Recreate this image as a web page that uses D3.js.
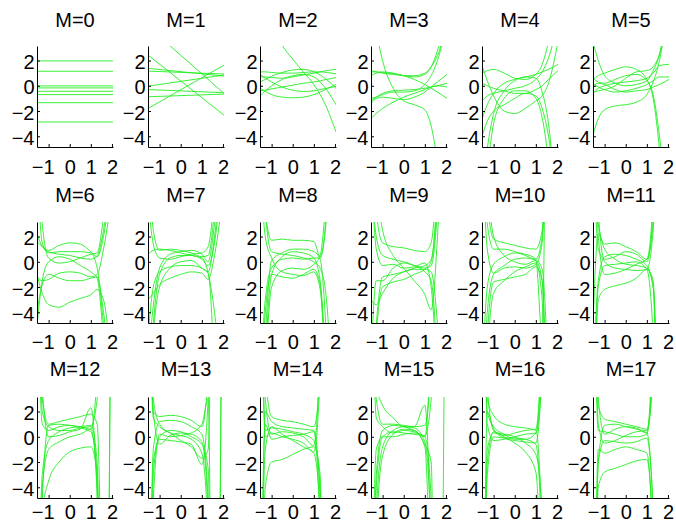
<!DOCTYPE html>
<html><head><meta charset="utf-8">
<script src="https://cdn.jsdelivr.net/npm/d3@7"></script>
<style>body{margin:0;background:#fff} text{font-family:"Liberation Sans",Arial,sans-serif;fill:#000}</style>
</head><body><svg id="c" width="676" height="524"></svg>
<script>
// ---- data ----
const titles = ["M=0","M=1","M=2","M=3","M=4","M=5","M=6","M=7","M=8","M=9","M=10","M=11","M=12","M=13","M=14","M=15","M=16","M=17"];
const xTicks = [-1, 0, 1, 2];
const yTicks = [2, 0, -2, -4];
const xLine = [-1.55, 2.05];                                   // sample x for M=0, M=1
const xGrid = [-1.55, -1.3, -1, -0.5, 0, 0.5, 1, 1.3, 1.6, 2.05]; // sample x for M>=2

const m0 = [[1.97,1.97],[1.15,1.15],[-0.01,-0.01],[-0.17,-0.17],[-0.44,-0.44],[-0.7,-0.7],[-1.34,-1.34],[-2.87,-2.87]];
const m1 = [[2.43,-2.33],[4.7,-0.6],[1.38,0.77],[1.16,0.93],[-0.03,0.85],[-0.3,-0.55],[-0.87,-0.66],[-1.8,1.64]];
const m2 = [
 [7,6,4.8,3.2,2.1,1.1,0.1,-0.7,-1.7,-3.65],
 [1.1,1.1,1.05,1.0,1.0,1.05,1.1,1.1,1.05,0.95],
 [0.7,0.7,0.65,0.6,0.7,0.85,1.0,1.1,1.2,1.3],
 [0.3,0.5,0.75,1.05,1.25,1.3,1.1,0.85,0.5,-0.2],
 [-0.4,-0.35,-0.25,-0.1,0.05,0.2,0.3,0.4,0.5,0.65],
 [-0.8,-0.4,0.0,0.5,0.8,0.9,0.7,0.3,-0.3,-1.5],
 [-0.2,-0.45,-0.7,-0.9,-0.95,-0.9,-0.7,-0.5,-0.25,0.1],
 [0.9,0.6,0.3,-0.1,-0.35,-0.45,-0.4,-0.3,-0.2,-0.05]];
const m3 = [
 [8,4.5,2.0,-0.2,-1.2,-1.5,-1.9,-3.2,-6,-12],
 [1.2,1.1,1.0,0.9,0.8,0.8,1.0,1.5,2.4,5],
 [0.8,1.0,1.1,1.0,0.8,0.7,0.9,1.5,2.8,6],
 [-1.0,-0.9,-0.7,-0.5,-0.5,-0.4,0.1,0.8,2.0,5],
 [1.1,1.1,1.05,0.95,0.8,0.5,0.1,-0.2,-0.5,-1.0],
 [-2.6,-2.2,-1.8,-1.3,-0.9,-0.6,-0.3,-0.1,0.0,0.2],
 [-1.2,-0.9,-0.6,-0.4,-0.35,-0.3,-0.2,-0.1,0.0,-0.1],
 [-1.4,-1.0,-0.9,-1.0,-1.1,-0.9,-0.5,-0.1,0.3,0.9]];
const m4 = [
 [1.6,0.4,-0.8,-2.0,-2.2,-1.8,-1.2,-0.8,0.2,3.5],
 [-9,-5,-2.2,-0.4,0.4,0.7,0.6,-0.5,-3,-12],
 [-12,-7,-3,-1,-0.4,-0.4,-1.0,-2.5,-6,-15],
 [1.0,1.2,1.3,1.0,0.6,0.5,0.9,1.7,3.5,8],
 [-2.6,-1.5,-0.6,0.2,0.5,0.7,0.9,1.1,1.3,1.7],
 [-1.2,-0.8,-0.6,-0.4,-0.2,0.0,0.5,1.1,2.2,5],
 [0.2,0.0,-0.2,-0.4,-0.6,-0.6,-0.3,0.0,0.5,1.2],
 [-4,-2.8,-2.0,-1.5,-1.0,-0.6,-0.8,-1.8,-4,-10]];
const m5 = [
 [3.5,2.0,0.8,0.2,0.0,0.1,0.4,1.2,2.5,7],
 [-3.9,-2.6,-1.9,-1.6,-1.5,-1.3,-0.7,0.3,2.0,7],
 [0.5,0.8,1.0,1.3,1.5,1.3,0.5,-1.0,-5,-14],
 [0.6,0.3,0.2,0.5,0.8,0.9,0.4,-0.7,-4,-12],
 [-0.6,-0.2,0.0,0.2,0.3,0.4,0.6,1.0,1.6,1.7],
 [0.2,-0.1,-0.3,-0.5,-0.4,-0.2,0.1,0.4,0.7,0.7],
 [-0.5,-0.4,-0.3,0.0,0.6,1.1,1.2,1.5,2.5,6],
 [0.0,0.2,0.1,-0.3,-0.5,-0.4,-0.3,-0.1,0.1,0.5]];
const m6 = [
 [8,1.5,0.7,0.8,0.8,0.8,0.7,-0.5,-5,-15],
 [1.6,1.2,0.9,1.3,1.5,1.4,0.8,0.4,2,8],
 [-1.0,-2.5,-3.4,-3.6,-3.2,-2.9,-2.6,-2.2,-3,-10],
 [-4,-1.8,-1.0,-1.3,-1.5,-1.5,-1.3,-1.2,-4,-12],
 [-1.2,-1.5,-1.4,-0.9,-0.8,-0.9,-1.2,-1.0,1,6],
 [9,3,0.3,-0.1,0.0,0.3,0.6,0.7,3.5,10],
 [2.2,1.2,0.8,0.6,0.5,0.3,0.2,0.5,2.5,9],
 [-5,-1.5,0.0,0.4,0.2,-0.3,-0.8,-1.3,-6,-14]];
const m7 = [
 [-8,-3.5,-0.5,0.6,0.8,0.9,0.6,0.0,3.0,12],
 [-12,-5,-1.0,0.3,0.5,0.5,0.2,-0.3,1.5,9],
 [-15,-6,-2.0,-0.5,0.0,0.1,-0.5,-0.9,-8,-20],
 [12,2.5,0.9,1.0,0.9,0.7,0.4,0.5,4,14],
 [0.6,0.9,1.0,0.9,0.7,0.5,0.3,-0.9,-4,-12],
 [-3,-2.5,-1.8,-1.3,-1.0,-0.8,-0.9,-1.4,0.5,6],
 [5,1.4,0.3,0.2,0.4,0.6,0.7,1.2,5,12],
 [-6,-2.0,-0.8,-0.4,-0.3,-0.3,-0.5,-0.8,2,10]];
const m8 = [
 [12,4,1.7,1.8,1.7,1.7,1.6,0.4,3.5,20],
 [-15,-6,0.1,0.7,1.0,1.0,0.8,0.2,-6,-25],
 [-20,-8,-1.0,0.4,0.8,0.7,0.3,-1.5,-9,-25],
 [-10,-3,-0.5,0.2,0.3,0.2,0.3,0.3,4,20],
 [8,2,0.3,-0.8,-1.0,-1.1,-0.8,-2.2,-10,-30],
 [-25,-10,-2.0,-0.7,-0.5,-0.6,-0.2,0.5,6,25],
 [15,4,0.8,0.6,0.5,0.3,0.0,-0.5,-3,-20],
 [-12,-4,-1.0,-1.2,-1.3,-1.0,-0.6,-1.8,-12,-30]];
const m9 = [
 [15,4,1.5,1.2,1.1,0.9,0.8,1.5,8,25],
 [20,7,2.5,0.5,-0.5,-1.5,-2.6,-3.8,2,20],
 [-3,-3.4,-2.5,-1.3,-0.8,-0.6,-0.6,-0.8,-5,-20],
 [-8,-1.5,-1.5,-0.5,-0.1,-0.3,-0.5,-0.3,4,20],
 [-12,-5,-1.2,-1.0,-0.8,-0.5,-0.3,0.2,5,25],
 [8,1.0,-0.3,-0.2,-0.5,-0.4,-0.1,-2.0,-10,-30],
 [-20,-6,-2.0,-1.6,-1.4,-1.0,-0.6,0.0,6,25],
 [6,2.0,0.5,0.2,0.0,-0.3,-0.8,-1.5,-8,-25]];
const m10 = [
 [20,5,1.8,1.5,1.3,1.1,1.0,2.5,15,40],
 [15,3,1.0,1.0,0.8,0.5,0.2,2.0,15,40],
 [-20,-4,-1.0,-0.3,0.2,0.3,0.1,-1.5,-15,-40],
 [-10,-2,-0.2,0.4,0.7,0.6,0.2,-0.6,-10,-40],
 [10,1,-0.9,-0.5,-0.4,-0.5,-0.2,1.5,20,40],
 [-25,-6,-1.6,-1.4,-1.2,-1.0,-0.4,-1.5,-20,-40],
 [-30,-8,-2.5,-1.5,-0.8,-0.4,-0.1,-3,-30,-40],
 [30,8,2.0,0.5,0.0,-0.2,0.1,-6,30,40]];
const m11 = [
 [-5,2.2,1.0,0.2,-0.2,-0.3,-0.5,-2.0,-15,-40],
 [15,3,1.4,1.5,1.2,0.8,0.2,3,30,40],
 [-10,-1.5,0.4,0.6,0.5,0.2,-0.3,-2,-25,-40],
 [10,1.0,0.2,0.4,0.8,0.6,0.0,4,30,40],
 [-20,-3,-2.2,-1.9,-1.7,-1.3,-0.6,-1.5,-20,-40],
 [25,4,0.0,-0.5,-0.6,-0.7,-0.6,2.5,25,40],
 [-15,-2,-0.3,-0.2,-0.1,0.0,-0.6,-6,-30,-40],
 [20,2,-1.0,-0.9,-0.6,-0.2,0.2,5,30,40]];
const m12 = [
 [30,3,1.0,1.2,1.4,1.6,1.8,1.0,-20,-40],
 [-30,-5,0.9,1.0,0.9,0.8,0.6,5,40,40],
 [25,4,0.0,0.1,0.4,0.6,2.3,-5,-40,-40],
 [-25,-4,-1.0,-0.4,0.0,0.2,0.6,-4,-40,-40],
 [-30,-6,-3.5,-2.0,-1.2,-0.9,-0.8,-3,-40,-40],
 [20,2,0.8,0.5,0.5,0.7,0.8,3,40,40],
 [-20,-3,-0.3,0.4,0.7,0.8,0.9,-2,-40,40],
 [15,1,0.5,0.8,0.9,0.7,0.4,-3,-40,40]];
const m13 = [
 [30,2.0,1.6,1.7,1.6,1.3,0.8,5,40,40],
 [-30,-1,1.2,1.3,1.2,0.8,0.2,-5,-40,-40],
 [-40,-3,0.0,0.5,0.4,0.0,-0.6,-2.5,-40,-40],
 [20,1.5,0.8,0.3,-0.3,-0.8,-1.7,-1.0,30,40],
 [-35,-2,-0.2,-0.3,-0.4,-0.6,-2.2,3,40,40],
 [25,2,-0.6,0.1,0.3,0.2,-0.4,-6,-40,-40],
 [-25,-5,0.2,0.0,0.1,0.3,1.0,3,-40,40],
 [10,3,1.0,0.3,0.1,-0.2,-1.3,-8,-40,40]];
const m14 = [
 [30,5,1.6,1.3,1.2,1.0,0.8,5,40,40],
 [-30,2,1.2,0.8,0.7,0.6,0.5,-5,-40,-40],
 [25,0.5,0.7,0.6,0.4,0.2,-0.3,-4,-40,-40],
 [-35,-4,-2.0,-1.8,-1.4,-1.0,-0.8,-3,-40,-40],
 [20,0.0,0.3,0.0,-0.2,-0.5,-1.2,5,40,40],
 [-25,-1,0.8,0.2,-0.3,-0.8,-1.3,-6,-40,-40],
 [35,3,0.2,0.4,0.3,0.0,-0.7,8,40,40],
 [-20,1.0,-0.2,0.0,0.1,0.2,0.4,-8,-40,-40]];
const m15 = [
 [40,4,2.5,1.5,0.8,0.8,2.5,-10,-40,-40],
 [-40,-6,-0.8,0.5,0.8,0.7,-0.4,-8,-40,-40],
 [-40,-8,-1.5,0.2,0.6,0.5,-0.8,-15,-40,-40],
 [30,3,1.0,1.0,0.9,0.8,0.9,6,40,40],
 [-30,-3,0.5,0.9,0.8,0.5,0.0,10,40,40],
 [20,1.5,0.8,0.3,0.5,0.4,-0.6,-2,-40,-40],
 [-20,-1,0.0,0.0,0.2,0.3,0.0,-5,-40,40],
 [-40,-4,0.0,0.4,0.3,0.2,0.1,3,40,40]];
const m16 = [
 [-40,2.0,0.6,-0.1,-0.3,-0.4,-0.5,6,40,40],
 [40,3,1.7,1.0,0.8,0.7,0.5,-8,-40,-40],
 [-40,-2,0.4,0.0,-0.5,-1.2,-2.8,-15,-40,-40],
 [30,2,0.8,0.2,-0.2,-0.2,0.3,8,40,40],
 [-30,-3,0.0,-0.1,-0.1,-0.2,-0.6,-10,-40,-40],
 [40,4,0.5,0.1,0.3,0.5,0.6,10,40,40],
 [-35,-1,0.3,0.2,0.0,-0.5,-1.4,-6,-40,-40],
 [35,1,-0.3,-0.2,0.0,0.2,0.3,5,40,40]];
const m17 = [
 [40,2.5,1.4,1.2,1.0,0.8,0.6,6,40,40],
 [-40,-2,0.9,1.0,0.8,0.6,0.3,-6,-40,-40],
 [-40,-4,-2.8,-2.5,-2.2,-1.9,-1.8,-8,-40,-40],
 [30,1,-0.5,-0.3,0.1,0.4,0.5,5,40,40],
 [-30,-1,-1.3,-1.0,-0.8,-1.0,-1.3,-10,-40,-40],
 [35,3,0.2,0.6,0.8,0.7,0.3,8,40,40],
 [-35,-2,-0.3,-0.4,-0.5,-0.4,-0.1,-6,-40,-40],
 [20,0.5,0.4,0.2,0.0,0.0,0.2,10,40,40]];

const panels = [m0,m1,m2,m3,m4,m5,m6,m7,m8,m9,m10,m11,m12,m13,m14,m15,m16,m17];

// ---- layout ----
const svg = d3.select("#c");
const W = 76, H = 101;
const colX = c => Math.round(37.3 + c * 111.1);
const rowY = r => Math.round(45.7 + r * 175.8);
const labelPad = [13, 11.7, 7.2];   // per-row x tick label offset
const titleOff = [19, 19.8, 20.6];  // per-row title offset above axes
const x = d3.scaleLinear().domain([-1.55, 2.05]).range([0, W]);
const y = d3.scaleLinear().domain([-4.85, 3.15]).range([H, 0]);
const FS = 20;
const fmt = d3.format("d");

panels.forEach((curves, i) => {
  const c = i % 6, r = Math.floor(i / 6);
  const g = svg.append("g").attr("transform", `translate(${colX(c)},${rowY(r)})`);
  const xs = i < 2 ? xLine : xGrid;
  const cid = "clip" + i;
  g.append("clipPath").attr("id", cid).append("rect").attr("x", 0).attr("y", 0).attr("width", W).attr("height", H);
  const line = d3.line().x((d, k) => x(xs[k])).y(d => y(d)).curve(i < 2 ? d3.curveLinear : d3.curveMonotoneX);
  g.append("g").attr("clip-path", `url(#${cid})`).selectAll("path").data(curves).join("path")
    .attr("d", line).attr("fill", "none").attr("stroke", "#22ee22").attr("stroke-width", 0.9);

  const ax = g.append("g").call(d3.axisLeft(y).tickValues(yTicks).tickFormat(fmt).tickSizeInner(-3).tickSizeOuter(0).tickPadding(2.5));
  ax.selectAll("text").attr("dy", "0.4em");
  const bx = g.append("g").attr("transform", `translate(0,${H})`)
    .call(d3.axisBottom(x).tickValues(xTicks).tickFormat(fmt).tickSizeInner(-3).tickSizeOuter(0).tickPadding(labelPad[r]));
  bx.selectAll(".tick text").filter(d => d < 0).attr("text-anchor", "end").attr("dx", 5.5);
  [ax, bx].forEach(a => {
    a.attr("font-family", null).attr("font-size", null);
    a.selectAll("text").style("font-size", FS + "px").style("font-family", '"Liberation Sans",Arial,sans-serif');
    a.selectAll("path,line").attr("stroke", "#000");
  });
  g.append("text").attr("x", W / 2).attr("y", -titleOff[r]).attr("text-anchor", "middle")
    .style("font-size", FS + "px").text(titles[i]);
});
</script></body></html>
